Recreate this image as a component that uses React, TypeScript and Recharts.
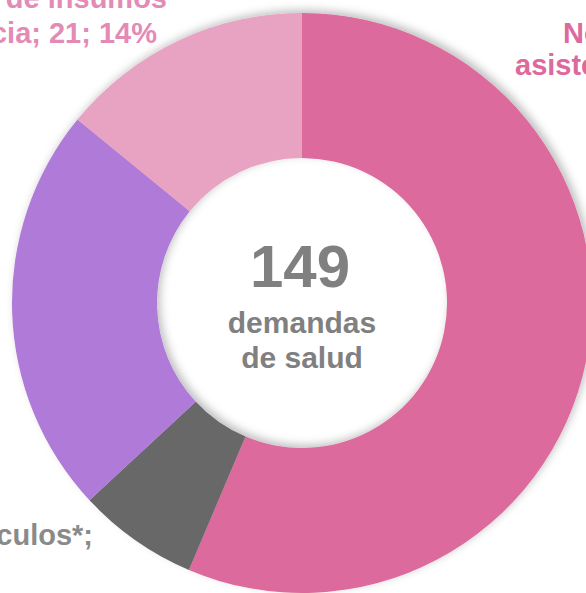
import { PieChart, Pie, Cell } from 'recharts';

// slices, clockwise from 12 o'clock
const categories = [
  'No asistencia',
  'Obstáculos*',
  'Trámites',
  'Falta de insumos en farmacia',
];
const values = [84, 10, 34, 21];
const colors = ['#dc6a9d', '#676767', '#b07ad8', '#e8a2c2'];

const total = 149;
const centerLines = ['demandas', 'de salud'];

// the visible (cropped) label pieces of the original chart
const labelLines: Array<Array<{ text: string; x: number; y: number; anchor: 'start' | 'end' }>> = [
  [
    { text: 'No', x: 563, y: 43, anchor: 'start' },
    { text: 'asistencia', x: 515, y: 75, anchor: 'start' },
  ],
  [{ text: 'Obstáculos*;', x: 93, y: 545, anchor: 'end' }],
  [],
  [
    { text: 'Falta de insumos', x: 167, y: 8, anchor: 'end' },
    { text: 'en farmacia; 21; 14%', x: 157, y: 43, anchor: 'end' },
  ],
];
const labelColors = ['#dc6a9d', '#8a8a8a', '#b07ad8', '#e48ab6'];

const data = categories.map((name, i) => ({ name, value: values[i] }));

const FONT = '"Liberation Sans", Arial, Helvetica, sans-serif';
const CX = 302;
const CY = 303;

export default function App() {
  return (
    <div
      style={{
        position: 'absolute',
        left: 0,
        top: 0,
        width: 586,
        height: 593,
        overflow: 'hidden',
        background: '#ffffff',
      }}
    >
      <style>{`.recharts-pie { filter: url(#ringShadow); }`}</style>
      <PieChart width={586} height={593} margin={{ top: 0, right: 0, bottom: 0, left: 0 }}>
        <defs>
          <filter id="ringShadow" x="-20%" y="-20%" width="140%" height="140%">
            <feDropShadow dx="3" dy="-3" stdDeviation="4" floodColor="#000" floodOpacity="0.25" />
          </filter>
        </defs>
        <Pie
          data={data}
          dataKey="value"
          cx={CX}
          cy={CY}
          innerRadius={145}
          outerRadius={290}
          startAngle={90}
          endAngle={-270}
          stroke="none"
          isAnimationActive={false}
        >
          {data.map((entry, index) => (
            <Cell key={`cell-${index}`} fill={colors[index]} />
          ))}
        </Pie>
        {labelLines.map((lines, i) =>
          lines.map((l, j) => (
            <text
              key={`lbl-${i}-${j}`}
              x={l.x}
              y={l.y}
              textAnchor={l.anchor}
              fill={labelColors[i]}
              fontSize={29}
              fontWeight="bold"
              fontFamily={FONT}
            >
              {l.text}
            </text>
          ))
        )}
        <g fontFamily={FONT} fontWeight="bold" fill="#808080" textAnchor="middle">
          <text x={CX - 2} y={CY - 16} fontSize={60}>
            {total}
          </text>
          <text x={CX} y={CY + 30} fontSize={30}>
            {centerLines[0]}
          </text>
          <text x={CX} y={CY + 65} fontSize={30}>
            {centerLines[1]}
          </text>
        </g>
      </PieChart>
    </div>
  );
}
